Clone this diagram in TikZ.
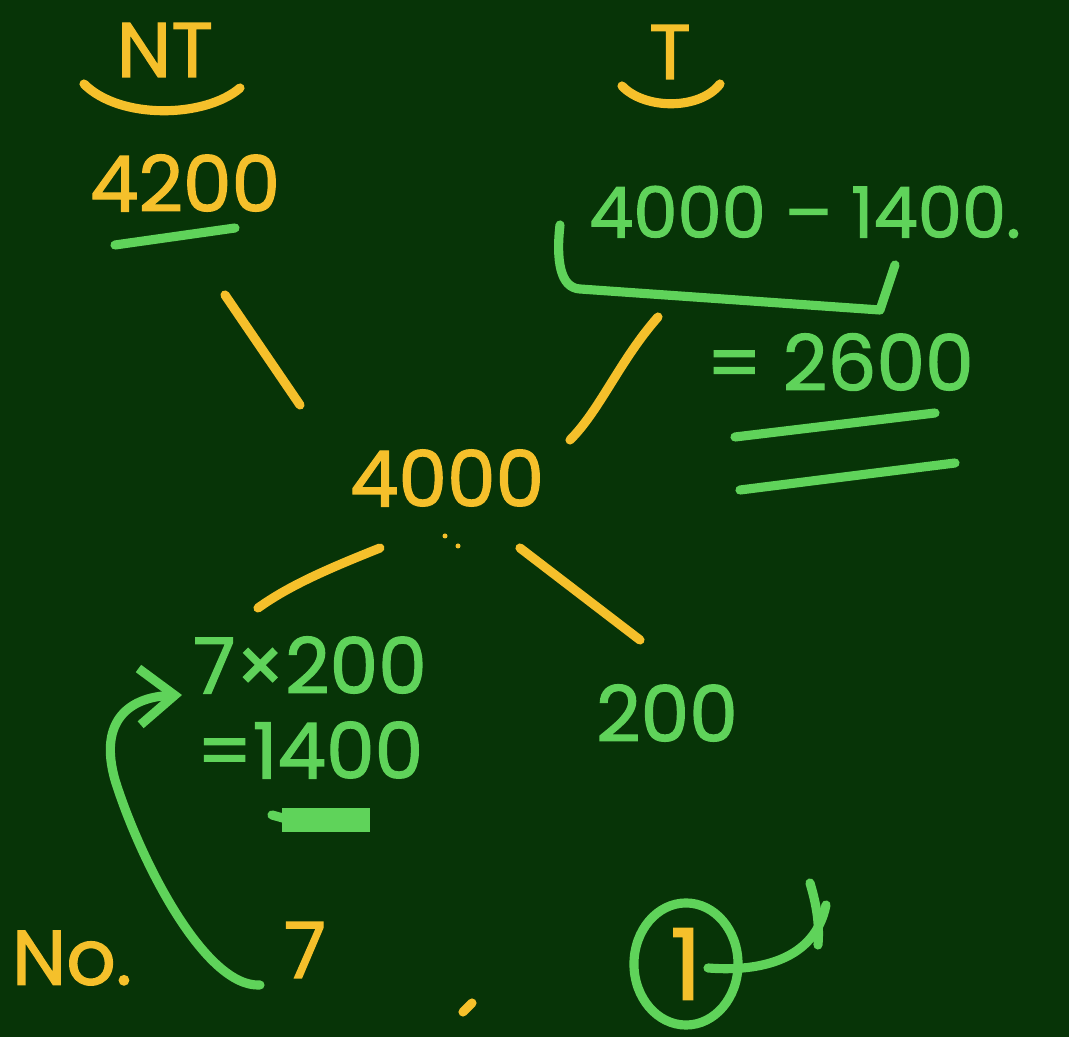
\documentclass[tikz,border=0pt]{standalone}
\usepackage{fontspec}
\setmainfont{Poppins}
\newfontfamily\chalkfont{Poppins}[FakeBold=1.6]
\usetikzlibrary{arrows.meta,shapes.geometric}
\definecolor{board}{HTML}{073407}
\definecolor{chalkY}{HTML}{F5C02B}
\definecolor{chalkG}{HTML}{5FD35A}
\tikzset{
  yel/.style={text=chalkY, inner sep=0pt, font=\chalkfont\fontsize{22}{26}\selectfont},
  grn/.style={text=chalkG, inner sep=0pt, font=\chalkfont\fontsize{22}{26}\selectfont},
  ystroke/.style={draw=chalkY, line width=2.6pt, line cap=round},
  gstroke/.style={draw=chalkG, line width=2.6pt, line cap=round, line join=round},
}
\begin{document}
\begin{tikzpicture}[x=0.01cm,y=-0.01cm]
\fill[board] (0,0) rectangle (1069,1037);

\node (NT) at (165,50) [yel] {NT};
\node (T) at (670,52) [yel] {T};
\node (ntval) at (185,183) [yel] {4200};
\node (tcalc) at (805,212) [grn, font=\chalkfont\fontsize{20}{24}\selectfont] {4000 – 1400.};
\node (tval) at (840,362) [grn] {= 2600};
\node (root) at (447,478) [yel] {4000};
\node (mul) at (310,665) [grn] {7×200};
\node (prod) at (310,750) [grn] {=1400};
\node (rest) at (667,713) [grn] {200};
\node (no) at (72,958) [yel] {No.};
\node (seven) at (305,950) [yel] {7};
\node (one) at (686,964) [ellipse, draw=chalkG, line width=2.6pt, minimum width=1.04cm, minimum height=1.22cm, inner sep=0pt, text=chalkY, font=\chalkfont\fontsize{28}{30}\selectfont] {1};

\draw[ystroke] (84,84) .. controls (120,120) and (205,118) .. (240,88);
\draw[ystroke] (622,86) .. controls (645,110) and (700,110) .. (720,84);
\draw[gstroke] (115,245) -- (235,228);
\draw[gstroke] (560,225) .. controls (556,260) and (560,288) .. (580,289) -- (880,310) -- (895,265);
\draw[gstroke] (735,437) -- (935,413);
\draw[gstroke] (740,490) -- (955,463);
\draw[gstroke, line width=7pt, line cap=butt] (282,820) -- (370,820);
\draw[gstroke] (272,815) -- (290,820);

\coordinate (a1) at (225,295);
\coordinate (a2) at (300,405);
\coordinate (b1) at (658,317);
\coordinate (b2) at (570,440);
\coordinate (c1) at (380,548);
\coordinate (c2) at (258,608);
\coordinate (d1) at (520,548);
\coordinate (d2) at (640,640);
\draw[ystroke] (a1) -- (a2);
\draw[ystroke] (b1) .. controls (620,360) and (600,410) .. (b2);
\draw[ystroke] (c1) .. controls (330,568) and (290,585) .. (c2);
\draw[ystroke] (d1) -- (d2);

\fill[chalkY] (445,536) circle (2.5);
\fill[chalkY] (458,546) circle (2.5);
\draw[ystroke] (463,1012) -- (472,1003);

\coordinate (e1) at (260,985);
\coordinate (e2) at (182,695);
\draw[gstroke, -{Straight Barb[length=10pt,width=16pt]}] (e1) .. controls (205,988) and (140,860) .. (115,780) .. controls (98,720) and (130,697) .. (e2);

\coordinate (f1) at (708,968);
\coordinate (f2) at (826,905);
\draw[gstroke] (f1) .. controls (760,972) and (815,960) .. (f2);
\draw[gstroke] (818,945) .. controls (820,920) and (815,900) .. (810,883);
\end{tikzpicture}
\end{document}
